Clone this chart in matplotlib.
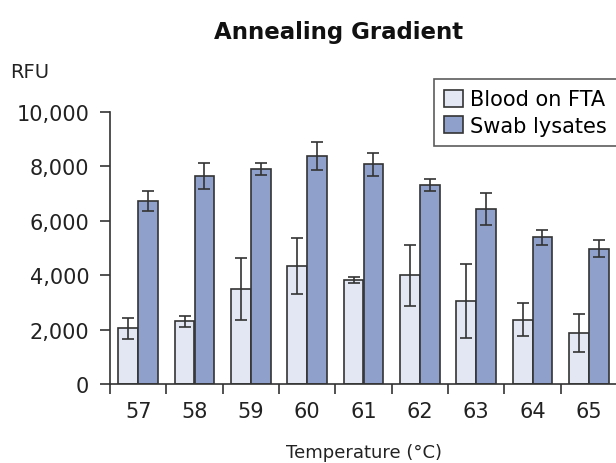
import numpy as np
import matplotlib
matplotlib.use('Agg')
import matplotlib.pyplot as plt

temps = ['57', '58', '59', '60', '61', '62', '63', '64', '65']
blood = [2050, 2300, 3500, 4350, 3830, 4000, 3060, 2370, 1870]
blood_err = [390, 210, 1150, 1030, 100, 1120, 1370, 600, 700]
swab = [6730, 7660, 7900, 8380, 8070, 7310, 6420, 5390, 4970]
swab_err = [380, 480, 220, 520, 420, 210, 590, 290, 310]

edge = '#333333'
plt.rcParams['font.family'] = 'DejaVu Sans'

fig = plt.figure(figsize=(6.16, 4.64), dpi=100)
ax = fig.add_axes([110 / 616, 1 - 385 / 464, 507 / 616, 272 / 464])

x = np.arange(len(temps))
w = 0.35
ax.bar(x - w / 2, blood, w, color='#e3e7f3', edgecolor=edge, linewidth=1.2,
       label='Blood on FTA', zorder=2)
ax.bar(x + w / 2, swab, w, color='#8fa1cb', edgecolor=edge, linewidth=1.2,
       label='Swab lysates', zorder=2)
ax.errorbar(x - w / 2, blood, yerr=blood_err, fmt='none', ecolor=edge,
            elinewidth=1.2, capsize=4, capthick=1.2, zorder=3)
ax.errorbar(x + w / 2, swab, yerr=swab_err, fmt='none', ecolor=edge,
            elinewidth=1.2, capsize=4, capthick=1.2, zorder=3)

ax.set_xlim(-0.5, len(temps) - 0.5)
ax.set_ylim(0, 10000)
ax.set_yticks(range(0, 10001, 2000))
ax.set_yticklabels(['{:,}'.format(v) for v in range(0, 10001, 2000)])

# boundary ticks, labels in the middle of each group
ax.set_xticks(np.arange(-0.5, len(temps), 1.0))
ax.set_xticklabels([])
ax.set_xticks(x, minor=True)
ax.set_xticklabels(temps, minor=True)
ax.tick_params(axis='x', which='minor', length=0, pad=12, labelsize=15,
               labelcolor='#222222')
ax.tick_params(axis='x', which='major', length=7, width=1.2, color=edge)
ax.tick_params(axis='y', length=7, width=1.2, color=edge, labelsize=15,
               pad=8, labelcolor='#222222')

for s in ['top', 'right']:
    ax.spines[s].set_visible(False)
for s in ['left', 'bottom']:
    ax.spines[s].set_color(edge)
    ax.spines[s].set_linewidth(1.2)

ax.set_xlabel('Temperature (°C)', fontsize=13, color='#222222', labelpad=16)
fig.text(10 / 616, 1 - 73 / 464, 'RFU', fontsize=14, color='#222222',
         va='center', ha='left')
fig.text(339 / 616, 1 - 33 / 464, 'Annealing Gradient', fontsize=16.5,
         fontweight='bold', color='#111111', ha='center', va='center')

leg = fig.legend(loc='upper left', bbox_to_anchor=(434 / 616, 1 - 80 / 464),
                 fontsize=15, frameon=True, fancybox=False, handlelength=0.9,
                 handleheight=0.9, handletextpad=0.35, borderpad=0.5,
                 labelspacing=0.3, borderaxespad=0)
leg.get_frame().set_edgecolor(edge)
leg.get_frame().set_linewidth(1.2)

fig.savefig('out.png', dpi=100)
